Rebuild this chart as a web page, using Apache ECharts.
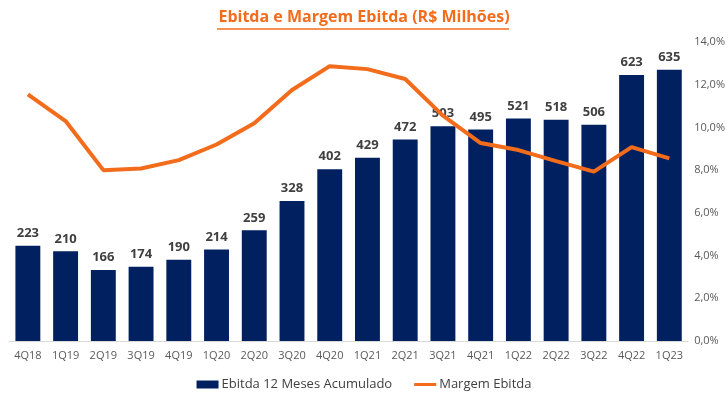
<!DOCTYPE html>
<html><head><meta charset="utf-8">
<script src="https://cdn.jsdelivr.net/npm/echarts@6/dist/echarts.min.js"></script>
<style>html,body{margin:0;padding:0;background:#fff}#c{width:728px;height:401px}</style>
</head><body><div id="c"></div>
<script>
const categories = ['4Q18','1Q19','2Q19','3Q19','4Q19','1Q20','2Q20','3Q20','4Q20','1Q21','2Q21','3Q21','4Q21','1Q22','2Q22','3Q22','4Q22','1Q23'];
const ebitda = [223,210,166,174,190,214,259,328,402,429,472,503,495,521,518,506,623,635];
const margem = [11.55,10.3,8.0,8.08,8.47,9.2,10.2,11.75,12.87,12.73,12.27,10.55,9.27,8.94,8.42,7.93,9.08,8.55];
const chart = echarts.init(document.getElementById('c'));
const font = 'Open Sans, Liberation Sans, sans-serif';
chart.setOption({
  animation:false,
  title:{text:'Ebitda e Margem Ebitda (R$ Milhões)',left:'center',top:4,
    textStyle:{color:'#F26C1C',fontSize:16,fontWeight:'bold',fontFamily:font}},
  graphic:[{type:'line',shape:{x1:217,y1:29,x2:509,y2:29},style:{stroke:'#F26C1C',lineWidth:1.5}}],
  legend:{bottom:5,left:'center',itemGap:22,itemWidth:22,itemHeight:8,
    textStyle:{color:'#404040',fontSize:13,fontFamily:font,padding:[0,0,0,-2]},
    data:[{name:'Ebitda 12 Meses Acumulado',icon:'rect'},
          {name:'Margem Ebitda',icon:'path://M0,2.5h22v3H0z',itemStyle:{color:'#F26C1C'}}]},
  grid:{left:9,right:37,top:42,bottom:60},
  xAxis:{type:'category',data:categories,
    axisLine:{lineStyle:{color:'#D9D9D9'}},axisTick:{show:false},
    axisLabel:{color:'#595959',fontSize:11,fontFamily:font,margin:9}},
  yAxis:[
    {type:'value',min:0,max:700,show:false,splitLine:{show:false}},
    {type:'value',min:0,max:14,interval:2,position:'right',splitLine:{show:false},
     axisLine:{show:false},axisTick:{show:false},
     axisLabel:{color:'#595959',fontSize:11,fontFamily:font,margin:6,
       formatter:v=>v.toFixed(1).replace('.',',')+'%'}}
  ],
  series:[
    {name:'Ebitda 12 Meses Acumulado',type:'bar',data:ebitda,barCategoryGap:'34%',
     itemStyle:{color:'#002060'},
     label:{show:true,position:'top',distance:6,color:'#404040',fontSize:13,fontWeight:'bold',fontFamily:font}},
    {name:'Margem Ebitda',type:'line',yAxisIndex:1,data:margem,symbol:'none',
     lineStyle:{color:'#F26C1C',width:4},itemStyle:{color:'#F26C1C'}}
  ]
});
</script></body></html>
